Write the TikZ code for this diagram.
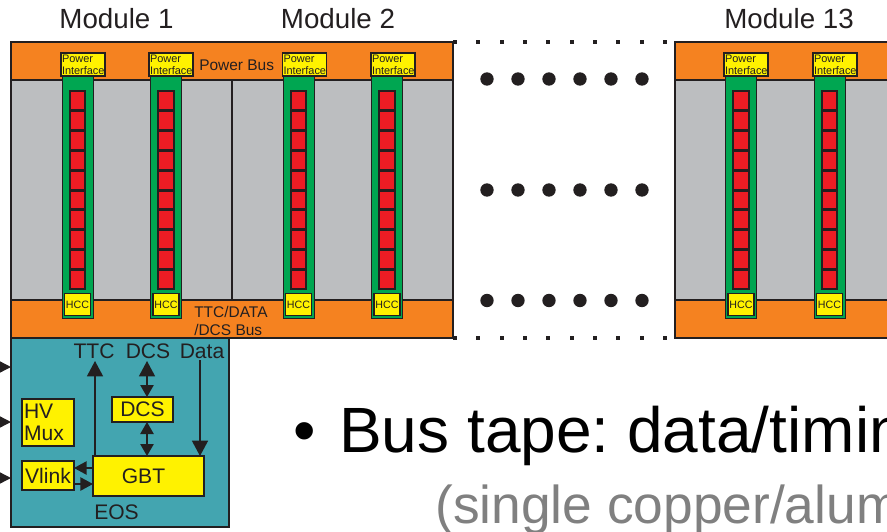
\documentclass[tikz,border=0pt]{standalone}
\usepackage{fontspec}
\setmainfont{Liberation Sans}
\usetikzlibrary{arrows.meta}
\definecolor{cdark}{HTML}{231F20}
\definecolor{corange}{HTML}{F58220}
\definecolor{cgray}{HTML}{BCBEC0}
\definecolor{cgreen}{HTML}{00A651}
\definecolor{cred}{HTML}{ED1C24}
\definecolor{cyel}{HTML}{FFF200}
\definecolor{cteal}{HTML}{43A5B0}
\definecolor{cgrey}{HTML}{808080}
\tikzset{
  pane/.style={draw=cdark,line width=.9pt,inner sep=0pt,outer sep=0pt},
  orangebar/.style={pane,fill=corange,minimum height=28.5pt},
  graybar/.style={pane,fill=cgray,minimum height=165pt},
  stripbox/.style={draw=cdark,line width=.7pt,fill=cgreen,inner sep=0pt,minimum width=23.25pt,minimum height=181.5pt},
  cellbox/.style={draw=cdark,line width=1.3pt,fill=cred,inner sep=0pt,minimum width=11.5pt,minimum height=14pt},
  powerbox/.style={draw=cdark,line width=.9pt,fill=cyel,inner sep=0pt,outer sep=0pt,minimum width=33pt,minimum height=17.25pt,text width=31.5pt,align=left,font=\fontsize{8.2}{9}\selectfont,text=cdark},
  hccbox/.style={draw=cdark,line width=.9pt,fill=cyel,inner sep=0pt,outer sep=0pt,minimum width=19.5pt,minimum height=16.5pt,font=\fontsize{8}{9}\selectfont,text=cdark},
  ybox/.style={draw=cdark,line width=.9pt,fill=cyel,inner sep=0pt,outer sep=0pt,font=\fontsize{15.8}{16.5}\selectfont,text=cdark},
  lab/.style={inner sep=0pt,text=cdark},
  modlab/.style={lab,font=\fontsize{20.8}{22}\selectfont},
  buslab/.style={lab,font=\fontsize{11.6}{12.6}\selectfont},
  eoslab/.style={lab,font=\fontsize{15.8}{17}\selectfont},
  bigdot/.style={circle,fill=cdark,inner sep=0pt,minimum size=10pt},
  smalldot/.style={rectangle,fill=cdark,inner sep=0pt,minimum size=3.2pt},
  conn/.style={draw=cdark,line width=1.1pt},
  bighead/.style={conn,-{Triangle[width=12pt,length=11.5pt]}},
}
\begin{document}
\frenchspacing
\begin{tikzpicture}[x=.75pt,y=-.75pt]
\useasboundingbox (0,0) rectangle (887,531);
\clip (0,0) rectangle (887,531);
% left panel
\node[orangebar,minimum width=331.5pt] (tbus) at (232,61) {};
\node[graybar,minimum width=331.5pt] (mid) at (232,190) {};
\node[orangebar,minimum width=331.5pt] (bbus) at (232,319) {};
\draw[draw=cdark,line width=1.7pt] (mid.north) -- (mid.south);
% right panel
\node[orangebar,minimum width=165pt] (tbusr) at (785,61) {};
\node[graybar,minimum width=165pt] (midr) at (785,190) {};
\node[orangebar,minimum width=165pt] (bbusr) at (785,319) {};
% strips
\foreach \n/\cx/\px in {a/77.5/83,b/166/171,c/298.5/304.5,d/387/393,e/741/746,f/829.5/835}{
  \node[stripbox] (g\n) at (\cx,197) {};
  \foreach \k in {0,...,9}{
    \node[cellbox] (r\n\k) at (\cx,{100.5+19.9*\k}) {};
  }
  \node[powerbox] (p\n) at (\px,64.5) {Power\\Interface};
  \node[hccbox] (h\n) at (\cx,304.5) {HCC};
}
% dots
\foreach \y in {79,190,300.5}{
  \foreach \x in {487,518,549,580,611,642}{
    \node[bigdot] at (\x,\y) {};
  }
}
\foreach \x in {455,478,502,525,548,572,595,618,642,665}{
  \node[smalldot] at (\x,42) {};
  \node[smalldot] at (\x,338) {};
}
% titles
\node[modlab] (m1) at (116.5,19) {Module 1};
\node[modlab] (m2) at (338,19) {Module 2};
\node[modlab] (m13) at (789,19) {Module 13};
\node[buslab,anchor=base west] (pbus) at (199,70.5) {Power Bus};
\node[buslab,anchor=base west,align=left] (tbl) at (194,317) {TTC/DATA};
\node[buslab,anchor=base west,align=left] (tbl2) at (194,335) {/DCS Bus};
% EOS
\node[pane,fill=cteal,minimum width=163.5pt,minimum height=141.75pt] (eos) at (120,432.5) {};
\node[eoslab,anchor=base] (ttc) at (94,358) {TTC};
\node[eoslab,anchor=base] (dcst) at (148,358) {DCS};
\node[eoslab,anchor=base] (dat) at (202,358) {Data};
\node[eoslab,anchor=base] (eosl) at (116.5,519) {EOS};
\node[ybox,minimum width=39pt,minimum height=35.25pt,text width=36pt,align=left] (hv) at (48,422.5) {HV\\Mux};
\node[ybox,minimum width=45.75pt,minimum height=18.75pt] (dcsb) at (142.5,409.5) {DCS};
\node[ybox,minimum width=83.25pt,minimum height=30pt] (gbt) at (148.5,476) {\hspace*{-7.5pt}GBT};
\node[ybox,minimum width=39pt,minimum height=21.75pt] (vl) at (48,475.5) {Vlink};
% connectors
\coordinate (ttctop) at (95,361);
\coordinate (dcstop) at (147,361);
\coordinate (dattop) at (200,360);
\draw[bighead] (gbt.north -| ttctop) -- (ttctop);
\draw[conn,{Triangle[width=12pt,length=11.5pt]}-{Triangle[width=10pt,length=9pt]}] (dcstop) -- (dcsb.north -| dcstop);
\draw[conn,{Triangle[width=10pt,length=9pt]}-{Triangle[width=10pt,length=9pt]}] (dcsb.south -| dcstop) -- (gbt.north -| dcstop);
\draw[bighead] (dattop) -- (gbt.north -| dattop);
\coordinate (vu) at (74,468);
\coordinate (vd) at (74,484);
\draw[conn,-{Triangle[width=10pt,length=9.5pt]}] (gbt.west |- vu) -- (vu);
\draw[conn,-{Triangle[width=10pt,length=9.5pt]}] (vd) -- (gbt.west |- vd);
\foreach \n/\y in {x/367,y/422,z/478}{
  \coordinate (i\n) at (-8,\y);
  \draw[conn,-{Triangle[width=9pt,length=9pt]}] (i\n) -- (eos.west |- i\n);
}
% text
\node[inner sep=0pt,anchor=base west,font=\fontsize{48}{50}\selectfont,text=black] (bl) at (293,452) {•};
\node[inner sep=0pt,anchor=base west,font=\fontsize{48}{50}\selectfont,text=black] (t1) at (339,452) {Bus tape: data/timin};
\node[inner sep=0pt,anchor=base west,font=\fontsize{40}{42}\selectfont,text=cgrey] (t2) at (435,523) {(single copper/alum};
\end{tikzpicture}
\end{document}
